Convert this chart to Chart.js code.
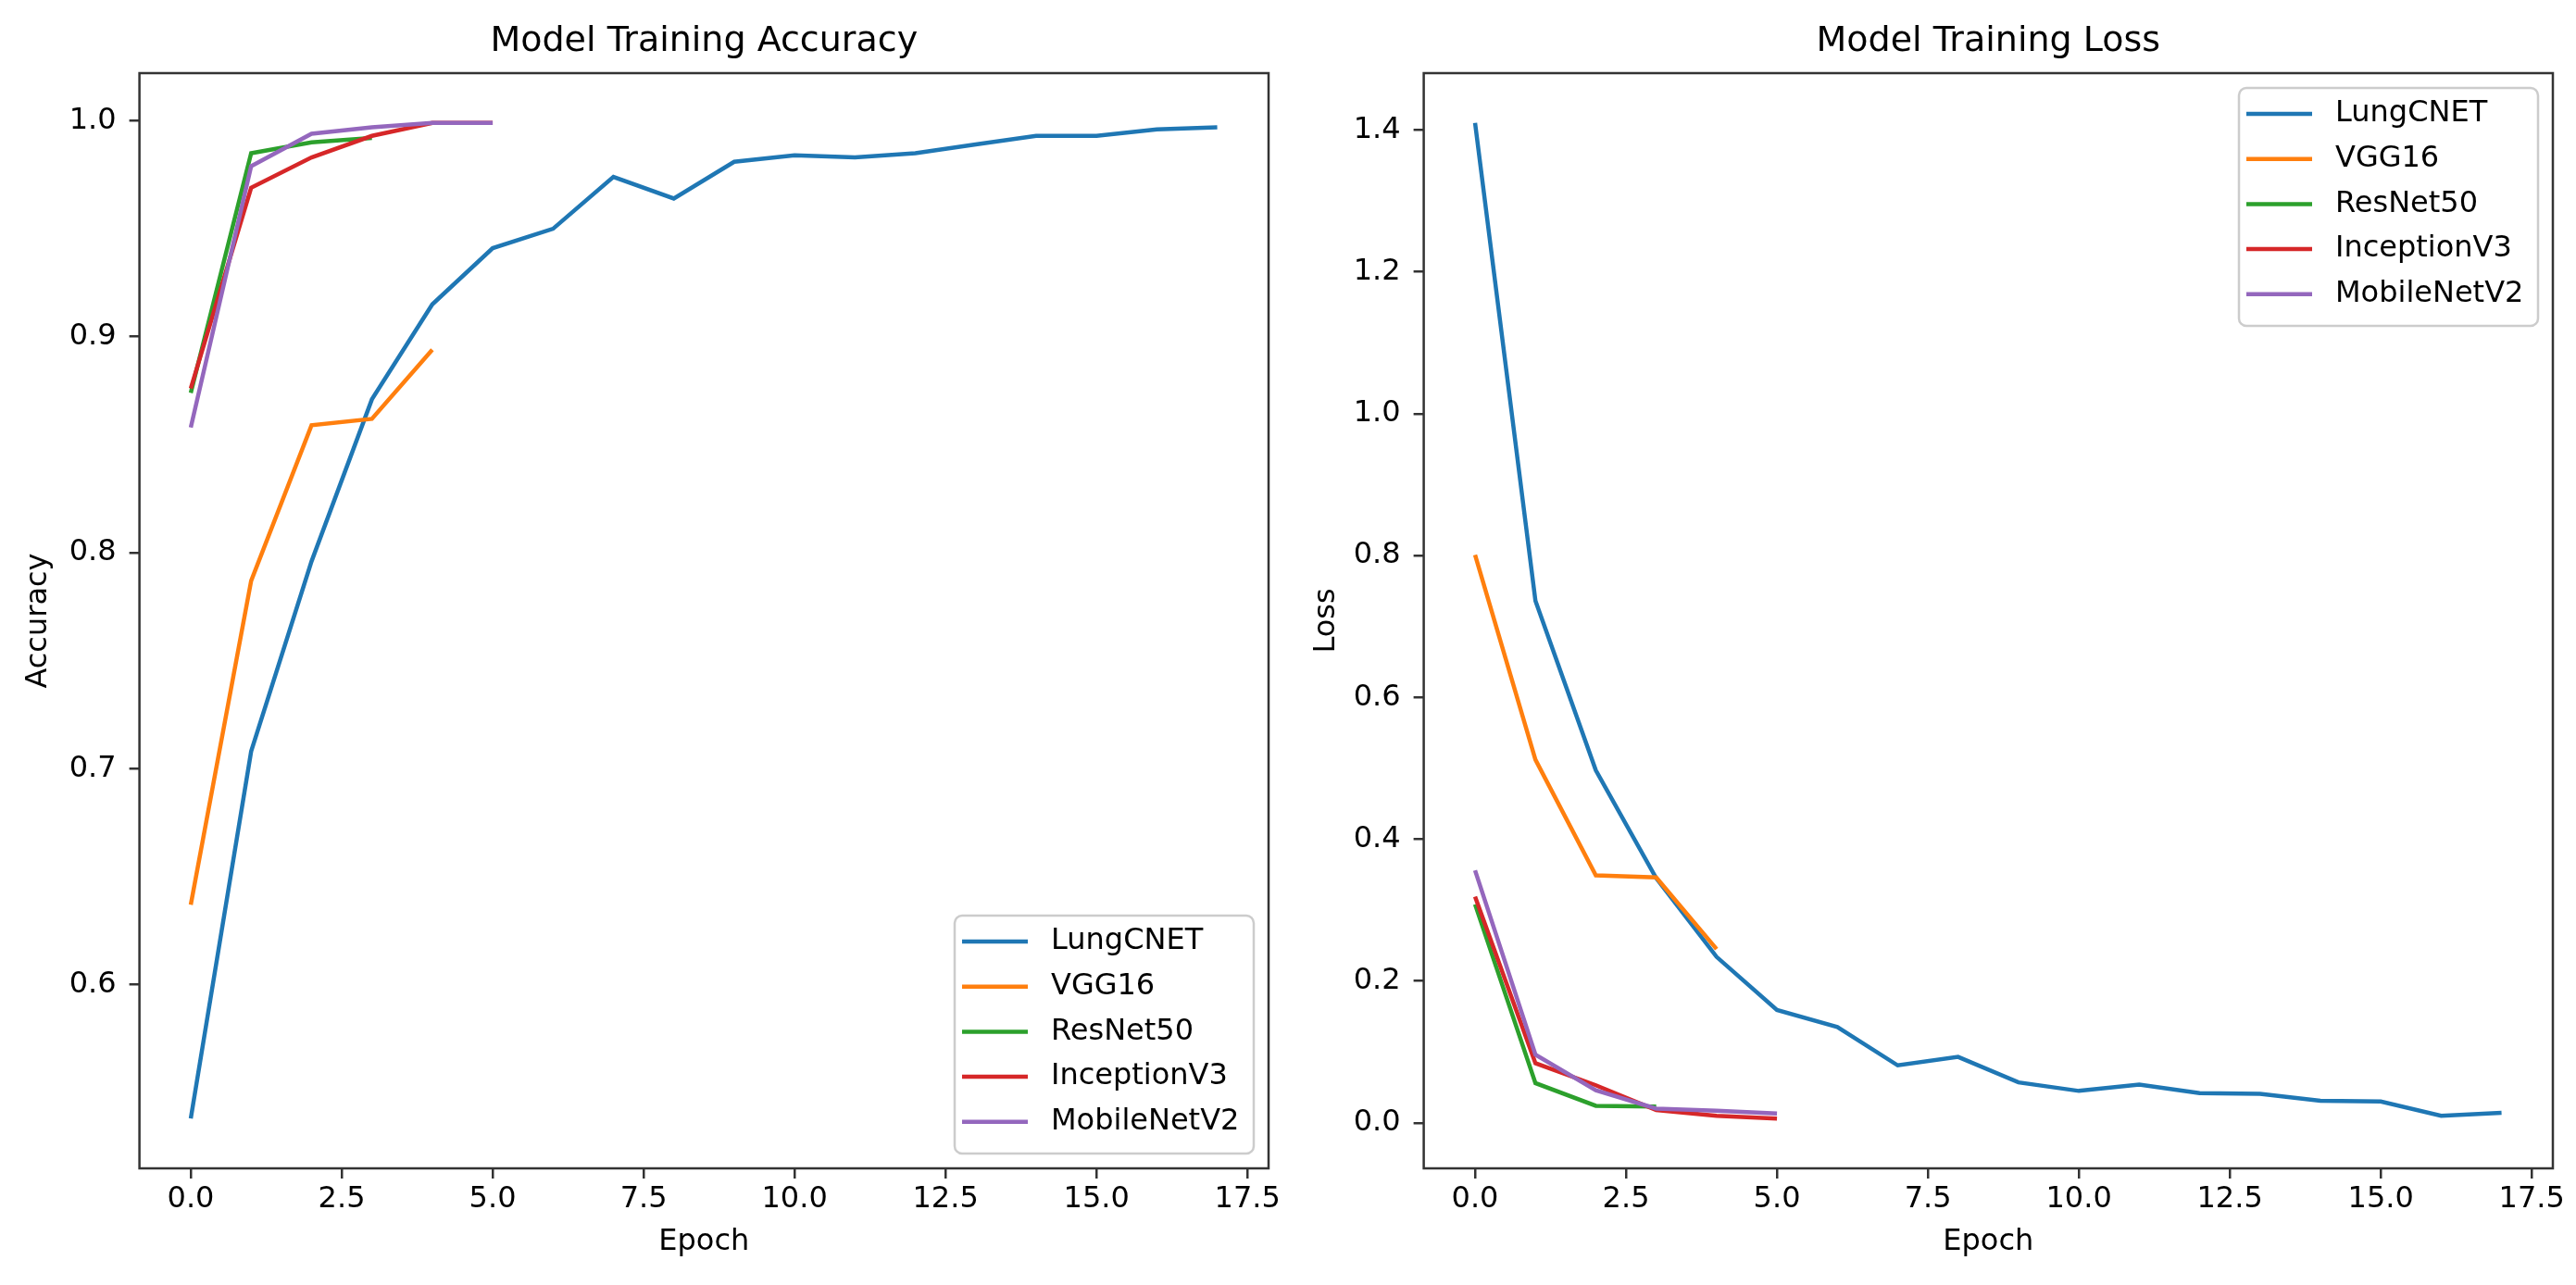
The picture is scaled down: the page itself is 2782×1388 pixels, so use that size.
<!DOCTYPE html>
<html>
<head>
<meta charset="utf-8">
<title>Model Training Accuracy / Loss</title>
<script src="https://cdn.jsdelivr.net/npm/chart.js@4.4.1/dist/chart.umd.min.js"></script>
<style>
  html, body { margin: 0; padding: 0; background: #fff; overflow: hidden; }
  canvas { position: absolute; top: 0; }
  #acc { left: 0; }
  #loss { left: 1391px; }
</style>
</head>
<body>
<canvas id="acc" width="1391" height="1388"></canvas>
<canvas id="loss" width="1391" height="1388"></canvas>
<script>
// models and colours (matplotlib tab10)
const models = ['LungCNET', 'VGG16', 'ResNet50', 'InceptionV3', 'MobileNetV2'];
const colors = ['#1f77b4', '#ff7f0e', '#2ca02c', '#d62728', '#9467bd'];

// tick labels
const epochTicks = [0, 2.5, 5, 7.5, 10, 12.5, 15, 17.5];
const accTicks = [0.6, 0.7, 0.8, 0.9, 1.0];
const lossTicks = [0.0, 0.2, 0.4, 0.6, 0.8, 1.0, 1.2, 1.4];

// training accuracy per epoch (epoch = index)
const accLung = [0.538, 0.708, 0.796, 0.871, 0.915, 0.941, 0.950, 0.974, 0.964, 0.981, 0.984, 0.983, 0.985, 0.989, 0.993, 0.993, 0.996, 0.997];
const accVgg = [0.637, 0.787, 0.859, 0.862, 0.894];
const accRes = [0.874, 0.985, 0.990, 0.992];
const accInc = [0.876, 0.969, 0.983, 0.993, 0.999, 0.999];
const accMob = [0.858, 0.979, 0.994, 0.997, 0.999, 0.999];

// training loss per epoch
const lossLung = [1.41, 0.736, 0.497, 0.345, 0.234, 0.159, 0.135, 0.081, 0.093, 0.057, 0.045, 0.054, 0.042, 0.041, 0.031, 0.030, 0.010, 0.014];
const lossVgg = [0.801, 0.512, 0.349, 0.346, 0.245];
const lossRes = [0.308, 0.056, 0.024, 0.023];
const lossInc = [0.319, 0.084, 0.053, 0.018, 0.010, 0.006];
const lossMob = [0.356, 0.096, 0.046, 0.020, 0.017, 0.013];

const FONT = 'DejaVu Sans';
const font = { family: FONT, size: 32 };
const tickGrid = { drawOnChartArea: false, drawTicks: true, tickLength: 11, color: '#333', lineWidth: 2.5 };

// full box around the plot area, like matplotlib spines
const frame = {
  id: 'frame',
  afterDatasetsDraw(chart) {
    const { ctx, chartArea: a } = chart;
    ctx.save();
    ctx.strokeStyle = '#333';
    ctx.lineWidth = 2.5;
    ctx.strokeRect(a.left, a.top, a.right - a.left, a.bottom - a.top);
    ctx.restore();
  }
};

// legend drawn inside the plot area
const insideLegend = {
  id: 'insideLegend',
  afterDraw(chart, args, opts) {
    const { ctx, chartArea: a } = chart;
    const w = 323, h = 257, inset = 16;
    const x0 = a.right - inset - w;
    const y0 = opts.corner === 'upper right' ? a.top + inset : a.bottom - inset - h;
    ctx.save();
    ctx.beginPath();
    ctx.roundRect(x0, y0, w, h, 8);
    ctx.fillStyle = 'rgba(255,255,255,0.8)';
    ctx.fill();
    ctx.strokeStyle = '#cccccc';
    ctx.lineWidth = 2.5;
    ctx.stroke();
    ctx.font = '32px "' + FONT + '"';
    ctx.textBaseline = 'middle';
    chart.data.datasets.forEach((ds, i) => {
      const y = y0 + 28 + i * 48.7;
      ctx.strokeStyle = ds.borderColor;
      ctx.lineWidth = 4.5;
      ctx.beginPath();
      ctx.moveTo(x0 + 8, y);
      ctx.lineTo(x0 + 79, y);
      ctx.stroke();
      ctx.fillStyle = '#000';
      ctx.fillText(ds.label, x0 + 104, y);
    });
    ctx.restore();
  }
};

function makeChart(id, title, yLabel, series, yTicks, corner, yAxisWidth, padRight) {
  // autoscale with a 5% margin, as matplotlib does
  const all = series.flat();
  const lo = Math.min(...all), hi = Math.max(...all);
  const yMin = lo - 0.05 * (hi - lo), yMax = hi + 0.05 * (hi - lo);
  const lastEpoch = Math.max(...series.map(s => s.length)) - 1;
  const xMin = -0.05 * lastEpoch, xMax = lastEpoch * 1.05;

  return new Chart(document.getElementById(id), {
    type: 'line',
    data: {
      datasets: series.map((s, i) => ({
        label: models[i],
        data: s.map((v, e) => ({ x: e, y: v })),
        borderColor: colors[i],
        backgroundColor: colors[i],
        borderWidth: 4.5,
        pointRadius: 0,
        tension: 0,
        fill: false,
        order: series.length - i
      }))
    },
    options: {
      responsive: false,
      devicePixelRatio: 1,
      animation: false,
      layout: { padding: { left: 0, top: 0, bottom: 0, right: padRight } },
      plugins: {
        legend: { display: false },
        tooltip: { enabled: false },
        insideLegend: { corner: corner }
      },
      scales: {
        x: {
          type: 'linear', position: 'bottom', min: xMin, max: xMax,
          afterBuildTicks: s => { s.ticks = epochTicks.map(v => ({ value: v })); },
          afterFit: s => { s.height = 126; },
          ticks: { callback: v => v.toFixed(1), font, color: '#000', padding: 3, maxRotation: 0, autoSkip: false },
          grid: tickGrid,
          border: { display: false },
          title: { display: true, text: 'Epoch', font, color: '#000', padding: { top: 0, bottom: 27 } }
        },
        xTitle: {
          type: 'linear', axis: 'x', position: 'top', min: xMin, max: xMax,
          afterFit: s => { s.height = 79; },
          ticks: { display: false },
          grid: { display: false },
          border: { display: false },
          title: { display: true, text: title, font: { family: FONT, size: 38 }, color: '#000', padding: { top: 22, bottom: 0 } }
        },
        y: {
          type: 'linear', position: 'left', min: yMin, max: yMax,
          afterBuildTicks: s => { s.ticks = yTicks.map(v => ({ value: v })); },
          afterFit: s => { s.width = yAxisWidth; },
          ticks: { callback: v => v.toFixed(1), font, color: '#000', padding: 14, autoSkip: false },
          grid: tickGrid,
          border: { display: false },
          title: { display: true, text: yLabel, font, color: '#000', padding: { top: 22, bottom: 0 } }
        }
      }
    },
    plugins: [frame, insideLegend]
  });
}

makeChart('acc', 'Model Training Accuracy', 'Accuracy',
  [accLung, accVgg, accRes, accInc, accMob], accTicks, 'lower right', 150.6, 21);
makeChart('loss', 'Model Training Loss', 'Loss',
  [lossLung, lossVgg, lossRes, lossInc, lossMob], lossTicks, 'upper right', 146.6, 25);
</script>
</body>
</html>
